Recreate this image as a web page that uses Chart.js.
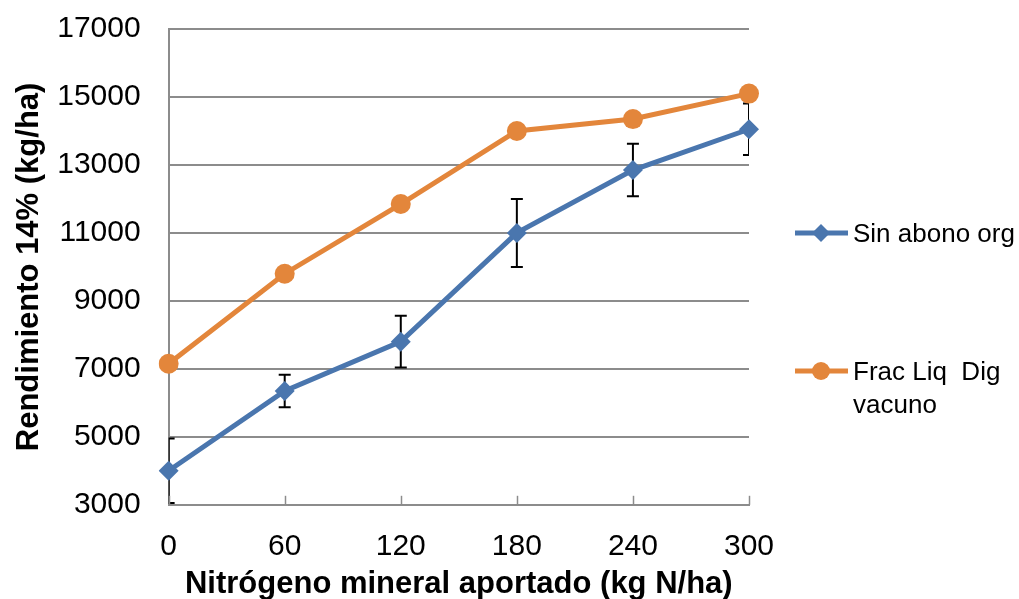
<!DOCTYPE html>
<html>
<head>
<meta charset="utf-8">
<script src="https://cdn.jsdelivr.net/npm/chart.js@4"></script>
<style>
  html, body { margin: 0; padding: 0; background: #fff; }
  #wrap { width: 1019px; height: 599px; }
</style>
</head>
<body>
<div id="wrap"><canvas id="chart" width="1019" height="599"></canvas></div>
<script>
// data
const nitrogen = ['0', '60', '120', '180', '240', '300'];
const sinAbono = [4000, 6350, 7800, 11000, 12850, 14050];
const sinAbonoErr = [950, 480, 760, 1000, 770, 760];
const fracLiq = [7150, 9800, 11850, 14000, 14350, 15100];
const yTicks = [3000, 5000, 7000, 9000, 11000, 13000, 15000, 17000];

const blue = '#4a76ae';
const orange = '#e3863b';
const font = 'Liberation Sans, Arial, sans-serif';

// error bars under the markers
const errorBars = {
  id: 'errorBars',
  beforeDatasetsDraw(chart) {
    const ctx = chart.ctx;
    const x = chart.scales.x, y = chart.scales.y;
    const area = chart.chartArea;
    ctx.save();
    ctx.beginPath();
    ctx.rect(area.left, area.top - 2, area.right - area.left, area.bottom - area.top + 4);
    ctx.clip();
    ctx.strokeStyle = '#000';
    ctx.lineWidth = 2;
    sinAbono.forEach((v, i) => {
      const px = x.getPixelForValue(i);
      const top = y.getPixelForValue(v + sinAbonoErr[i]);
      const bot = y.getPixelForValue(v - sinAbonoErr[i]);
      ctx.beginPath();
      ctx.moveTo(px, top); ctx.lineTo(px, bot);
      ctx.moveTo(px - 6, top); ctx.lineTo(px + 6, top);
      ctx.moveTo(px - 6, bot); ctx.lineTo(px + 6, bot);
      ctx.stroke();
    });
    ctx.restore();
  }
};

// inner tick marks on the x axis
const innerTicks = {
  id: 'innerTicks',
  afterDraw(chart) {
    const ctx = chart.ctx;
    const x = chart.scales.x;
    const b = chart.chartArea.bottom;
    ctx.save();
    ctx.strokeStyle = '#8c8c8c';
    ctx.lineWidth = 1.5;
    nitrogen.forEach((n, i) => {
      const px = Math.round(x.getPixelForValue(i)) + 0.5;
      ctx.beginPath();
      ctx.moveTo(px, b); ctx.lineTo(px, b - 9);
      ctx.stroke();
    });
    ctx.restore();
  }
};

// legend on the right, like the original
const sideLegend = {
  id: 'sideLegend',
  afterDraw(chart) {
    const ctx = chart.ctx;
    ctx.save();
    ctx.font = '26px ' + font;
    ctx.textBaseline = 'middle';
    ctx.lineWidth = 5;

    ctx.strokeStyle = blue;
    ctx.beginPath(); ctx.moveTo(795, 233); ctx.lineTo(848, 233); ctx.stroke();
    ctx.fillStyle = blue;
    ctx.beginPath();
    ctx.moveTo(821, 224); ctx.lineTo(830, 233); ctx.lineTo(821, 242); ctx.lineTo(812, 233);
    ctx.closePath(); ctx.fill();

    ctx.strokeStyle = orange;
    ctx.beginPath(); ctx.moveTo(795, 371); ctx.lineTo(848, 371); ctx.stroke();
    ctx.fillStyle = orange;
    ctx.beginPath(); ctx.arc(821, 371, 9, 0, Math.PI * 2); ctx.fill();

    ctx.fillStyle = '#000';
    ctx.fillText('Sin abono org', 853, 235);
    ctx.fillText('Frac Liq  Dig', 853, 373);
    ctx.fillText('vacuno', 853, 406);
    ctx.restore();
  }
};

new Chart(document.getElementById('chart'), {
  type: 'line',
  data: {
    labels: nitrogen,
    datasets: [
      {
        label: 'Sin abono org',
        data: sinAbono,
        borderColor: blue,
        backgroundColor: blue,
        borderWidth: 5,
        pointStyle: 'rectRot',
        pointRadius: 10,
        pointBorderWidth: 0,
        tension: 0
      },
      {
        label: 'Frac Liq  Dig vacuno',
        data: fracLiq,
        borderColor: orange,
        backgroundColor: orange,
        borderWidth: 5,
        pointStyle: 'circle',
        pointRadius: 10,
        pointBorderWidth: 0,
        tension: 0
      }
    ]
  },
  options: {
    responsive: false,
    animation: false,
    layout: { padding: { top: 29, right: 270, left: 4, bottom: 0 } },
    plugins: {
      legend: { display: false },
      tooltip: { enabled: false }
    },
    scales: {
      x: {
        offset: false,
        grid: { display: false, drawTicks: false },
        border: { color: '#8c8c8c', width: 2 },
        ticks: { color: '#000', font: { family: font, size: 30 }, padding: 24, maxRotation: 0 },
        title: {
          display: true,
          text: 'Nitrógeno mineral aportado (kg N/ha)',
          color: '#000',
          font: { family: font, size: 31, weight: 'bold' },
          padding: { top: -23, bottom: -4 }
        }
      },
      y: {
        min: 3000,
        max: 17000,
        afterBuildTicks(axis) { axis.ticks = yTicks.map(v => ({ value: v })); },
        grid: { color: '#8c8c8c', lineWidth: 2, drawTicks: true, tickLength: 28, tickColor: 'rgba(0,0,0,0)' },
        border: { color: '#8c8c8c', width: 2 },
        ticks: {
          color: '#000',
          font: { family: font, size: 30 },
          padding: 0,
          callback: (v) => String(v)
        },
        title: {
          display: true,
          text: 'Rendimiento 14% (kg/ha)',
          color: '#000',
          font: { family: font, size: 31, weight: 'bold' },
          padding: { top: 7, bottom: 9 }
        }
      }
    }
  },
  plugins: [errorBars, innerTicks, sideLegend]
});
</script>
</body>
</html>
